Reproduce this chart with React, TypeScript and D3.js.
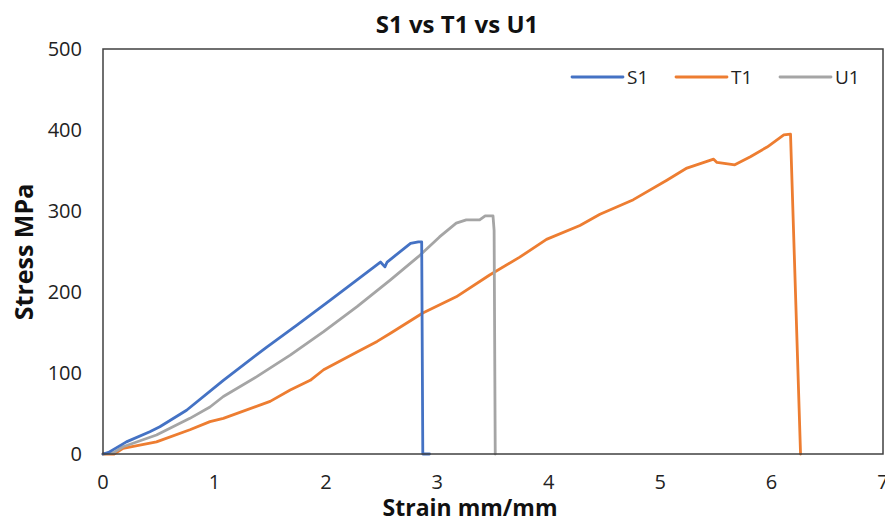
import React from "react";
import * as d3 from "d3";

const seriesNames = ["S1", "T1", "U1"];
const seriesColors = ["#4472C4", "#ED7D31", "#A5A5A5"];

const s1Strain = [0, 0.05, 0.21, 0.42, 0.51, 0.75, 1.08, 1.47, 1.74, 2.04, 2.28, 2.49, 2.53, 2.55, 2.76, 2.83, 2.86, 2.87, 2.93];
const s1Stress = [0, 2, 15, 27.5, 33.7, 54, 91, 132, 159, 190, 215, 237, 231, 237, 260, 262, 262, 0, 0];

const t1Strain = [0, 0.1, 0.18, 0.48, 0.78, 0.96, 1.08, 1.5, 1.68, 1.86, 1.98, 2.28, 2.46, 2.58, 2.87, 3.17, 3.47, 3.74, 3.98, 4.28, 4.46, 4.76, 5.06, 5.24, 5.48, 5.51, 5.67, 5.81, 5.96, 6.11, 6.17, 6.26];
const t1Stress = [0, 0, 7, 15, 30, 40, 44, 65, 79, 91, 104, 126, 139, 149, 174, 194, 221, 243, 265, 282, 296, 314, 338, 353, 364, 360, 357, 367, 379, 394, 395, 0];

const u1Strain = [0, 0.1, 0.18, 0.48, 0.78, 0.96, 1.08, 1.38, 1.68, 1.98, 2.28, 2.58, 2.83, 3.02, 3.17, 3.26, 3.38, 3.43, 3.5, 3.51, 3.52];
const u1Stress = [0, 2, 9, 23.5, 44, 58, 71, 95.5, 122, 151, 182, 215, 243.6, 268, 285, 289, 289, 294, 294, 276, 0];

const xTicks = [0, 1, 2, 3, 4, 5, 6, 7];
const yTicks = [0, 100, 200, 300, 400, 500];

const W = 885;
const H = 524;
const M = { left: 103, right: 883, top: 49, bottom: 454 };

export default function App() {
  const x = d3.scaleLinear().domain([0, 7]).range([M.left, M.right]);
  const y = d3.scaleLinear().domain([0, 500]).range([M.bottom, M.top]);
  const line = d3
    .line<[number, number]>()
    .x((d) => x(d[0]))
    .y((d) => y(d[1]));

  const series = [
    { xs: s1Strain, ys: s1Stress },
    { xs: t1Strain, ys: t1Stress },
    { xs: u1Strain, ys: u1Stress },
  ];
  const drawOrder = [1, 2, 0];
  const font = "'Open Sans', 'Noto Sans', sans-serif";

  const legendX = [572, 676, 780];

  return (
    <svg
      width={W}
      height={H}
      style={{ position: "absolute", left: 0, top: 0, background: "#fff" }}
      fontFamily={font}
    >
      <rect x={0} y={0} width={W} height={H} fill="#fff" />
      <text x={457} y={33} textAnchor="middle" fontSize={24} fontWeight="bold" fill="#111">
        S1 vs T1 vs U1
      </text>
      {drawOrder.map((i) => {
        const s = series[i];
        const pts = s.xs.map((v, k) => [v, s.ys[k]] as [number, number]);
        return (
          <path
            key={i}
            d={line(pts) || ""}
            fill="none"
            stroke={seriesColors[i]}
            strokeWidth={2.8}
            strokeLinejoin="round"
            strokeLinecap="round"
          />
        );
      })}
      <rect
        x={M.left}
        y={M.top}
        width={M.right - M.left}
        height={M.bottom - M.top}
        fill="none"
        stroke="#404040"
        strokeWidth={1.5}
      />
      {yTicks.map((t) => (
        <text key={t} x={82} y={y(t)} dy="0.35em" textAnchor="end" fontSize={20} fill="#222">
          {t}
        </text>
      ))}
      {xTicks.map((t) => (
        <text key={t} x={x(t)} y={482} dy="0.35em" textAnchor="middle" fontSize={20} fill="#222">
          {t}
        </text>
      ))}
      <text x={470} y={516} textAnchor="middle" fontSize={23} fontWeight="bold" fill="#111">
        Strain mm/mm
      </text>
      <text
        transform={`translate(33,252) rotate(-90)`}
        textAnchor="middle"
        fontSize={25}
        fontWeight="bold"
        fill="#111"
      >
        Stress MPa
      </text>
      {seriesNames.map((n, i) => (
        <g key={n}>
          <line
            x1={legendX[i]}
            x2={legendX[i] + 51}
            y1={77}
            y2={77}
            stroke={seriesColors[i]}
            strokeWidth={2.8}
            strokeLinecap="round"
          />
          <text x={legendX[i] + 55} y={77} dy="0.35em" fontSize={19} fill="#222">
            {n}
          </text>
        </g>
      ))}
    </svg>
  );
}
